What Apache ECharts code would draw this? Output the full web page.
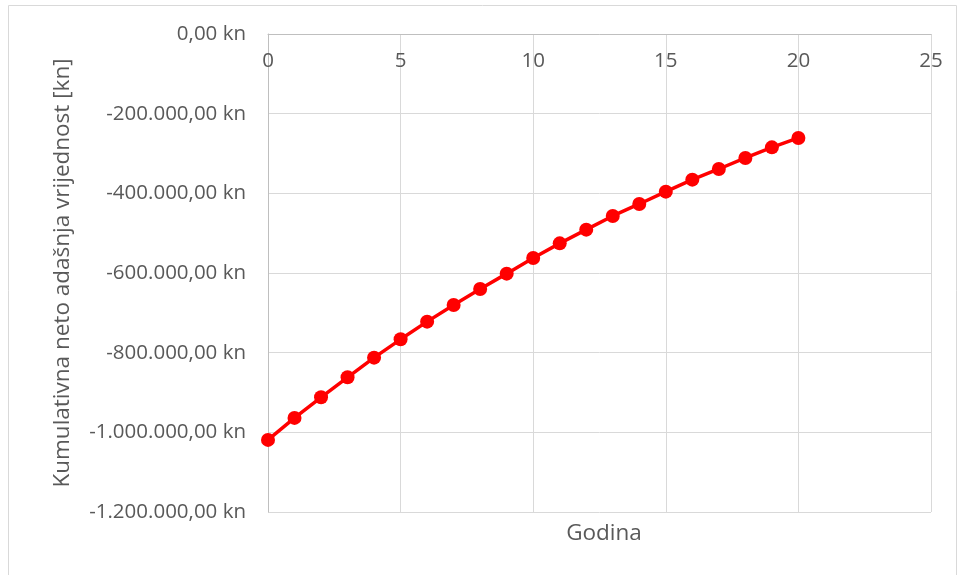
<!DOCTYPE html>
<html>
<head>
<meta charset="utf-8">
<script src="https://cdn.jsdelivr.net/npm/echarts@6/dist/echarts.min.js"></script>
<style>html,body{margin:0;padding:0;background:#fff}#c{width:961px;height:575px}</style>
</head>
<body>
<div id="c"></div>
<script>
const years = [0,1,2,3,4,5,6,7,8,9,10,11,12,13,14,15,16,17,18,19,20];
const npv = [-1019000,-963800,-912100,-861900,-812500,-766500,-722100,-680200,-640000,-601600,-562200,-525600,-491200,-456800,-426700,-395800,-365700,-338900,-311200,-284600,-261000];
const xTitle = 'Godina';
const yTitle = 'Kumulativna neto adašnja vrijednost [kn]';
const fontFam = '"Open Sans", "Liberation Sans", sans-serif';

function fmt(v){
  const neg = v < 0; v = Math.abs(v);
  const s = Math.round(v).toString().replace(/\B(?=(\d{3})+(?!\d))/g, '.');
  return (neg ? '-' : '') + s + ',00 kn';
}

const chart = echarts.init(document.getElementById('c'));
chart.setOption({
  animation: false,
  grid: {left: 268, right: 30, top: 34, bottom: 63},
  graphic: [{
    type: 'rect', shape: {x: 8.5, y: 5.5, width: 948, height: 600},
    style: {fill: 'none', stroke: '#d9d9d9', lineWidth: 1}, silent: true
  }],
  title: {
    text: xTitle, left: 599, top: 517, textAlign: 'center',
    textStyle: {fontFamily: fontFam, fontSize: 22.5, fontWeight: 'normal', color: '#595959'}
  },
  xAxis: {
    type: 'value', min: 0, max: 25, interval: 5, position: 'top',
    axisLine: {show: true, lineStyle: {color: '#bfbfbf', width: 1}},
    axisTick: {show: false},
    axisLabel: {inside: true, color: '#595959', fontSize: 20.5, fontFamily: fontFam, margin: 17},
    splitLine: {show: true, lineStyle: {color: '#d9d9d9', width: 1}}
  },
  yAxis: {
    type: 'value', min: -1200000, max: 0, interval: 200000,
    name: yTitle, nameLocation: 'middle', nameGap: 194, nameRotate: 90,
    nameTextStyle: {color: '#595959', fontSize: 22.5, fontFamily: fontFam},
    axisLine: {show: true, lineStyle: {color: '#bfbfbf', width: 1}},
    axisTick: {show: false},
    axisLabel: {color: '#595959', fontSize: 20.5, fontFamily: fontFam, margin: 22, formatter: fmt},
    splitLine: {show: true, lineStyle: {color: '#d9d9d9', width: 1}}
  },
  series: [{
    type: 'line',
    data: years.map((y, i) => [y, npv[i]]),
    symbol: 'circle', symbolSize: 14,
    lineStyle: {color: '#ff0000', width: 3.5},
    itemStyle: {color: '#ff0000'}
  }]
});
</script>
</body>
</html>
